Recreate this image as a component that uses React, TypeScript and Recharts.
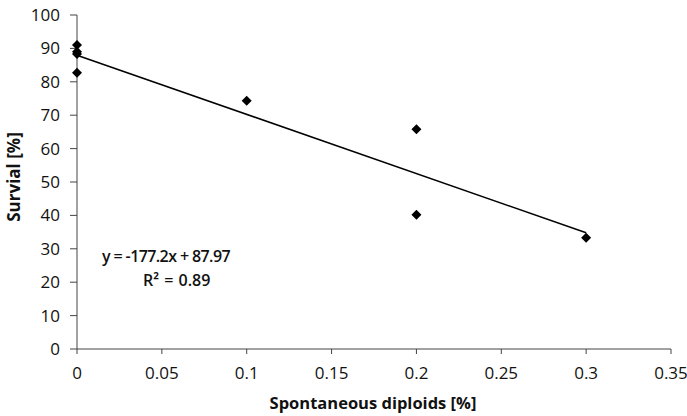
import React from "react";
import { ScatterChart, Scatter, XAxis, YAxis, ReferenceLine } from "recharts";

const diploids = [0, 0, 0, 0, 0.1, 0.2, 0.2, 0.3];
const survival = [91.0, 89.0, 88.3, 82.7, 74.3, 65.8, 40.2, 33.3];
const xTicks = [0, 0.05, 0.1, 0.15, 0.2, 0.25, 0.3, 0.35];
const yTicks = [0, 10, 20, 30, 40, 50, 60, 70, 80, 90, 100];
const trendX = [0, 0.3];
const trendY = [87.97, 34.81];
const equationText = "y = -177.2x + 87.97";
const r2Text = "R² = 0.89";

const points = diploids.map((x, i) => ({ x, y: survival[i] }));
const FONT = "'Open Sans', 'Liberation Sans', sans-serif";

const Diamond = (props: any) => {
  const { cx, cy } = props;
  const r = 5;
  return (
    <polygon
      points={`${cx},${cy - r} ${cx + r},${cy} ${cx},${cy + r} ${cx - r},${cy}`}
      fill="#000"
    />
  );
};

export default function App() {
  return (
    <div style={{ position: "absolute", left: 0, top: 0, width: 687, height: 416, background: "#fff", fontFamily: FONT }}>
      <ScatterChart width={687} height={416} margin={{ top: 15, right: 16, bottom: 0, left: 0 }}>
        <XAxis
          type="number"
          dataKey="x"
          domain={[0, 0.35]}
          ticks={xTicks}
          tickSize={5}
          tickMargin={13}
          height={67}
          stroke="#444"
          tick={{ fill: "#111", fontSize: 17, fontFamily: FONT }}
        />
        <YAxis
          type="number"
          dataKey="y"
          domain={[0, 100]}
          ticks={yTicks}
          tickSize={7}
          tickMargin={10}
          width={77}
          stroke="#444"
          tick={{ fill: "#111", fontSize: 17, fontFamily: FONT }}
        />
        <ReferenceLine
          segment={[
            { x: trendX[0], y: trendY[0] },
            { x: trendX[1], y: trendY[1] },
          ]}
          stroke="#000"
          strokeWidth={1.5}
        />
        <Scatter data={points} shape={<Diamond />} isAnimationActive={false} />
      </ScatterChart>
      <div style={{ position: "absolute", left: 0, top: 0, width: 687, height: 416, pointerEvents: "none" }}>
        <div style={{ position: "absolute", left: 102, top: 245, fontSize: 16, fontWeight: 600, letterSpacing: -0.6, color: "#111", whiteSpace: "nowrap", lineHeight: "22px" }}>
          {equationText}
        </div>
        <div style={{ position: "absolute", left: 143, top: 269, fontSize: 16, fontWeight: 600, wordSpacing: 1, color: "#111", whiteSpace: "nowrap", lineHeight: "22px" }}>
          {r2Text}
        </div>
        <div style={{ position: "absolute", left: 263, top: 392, width: 220, textAlign: "center", fontSize: 16.5, fontWeight: 700, color: "#111", whiteSpace: "nowrap", lineHeight: "22px" }}>
          Spontaneous diploids [%]
        </div>
        <div style={{ position: "absolute", left: 13.5, top: 177, width: 0, height: 0 }}>
          <div style={{ position: "absolute", left: -60, top: -11, width: 120, textAlign: "center", transform: "rotate(-90deg)", fontSize: 17, fontWeight: 700, color: "#111", whiteSpace: "nowrap", lineHeight: "22px" }}>
            Survial [%]
          </div>
        </div>
      </div>
    </div>
  );
}
